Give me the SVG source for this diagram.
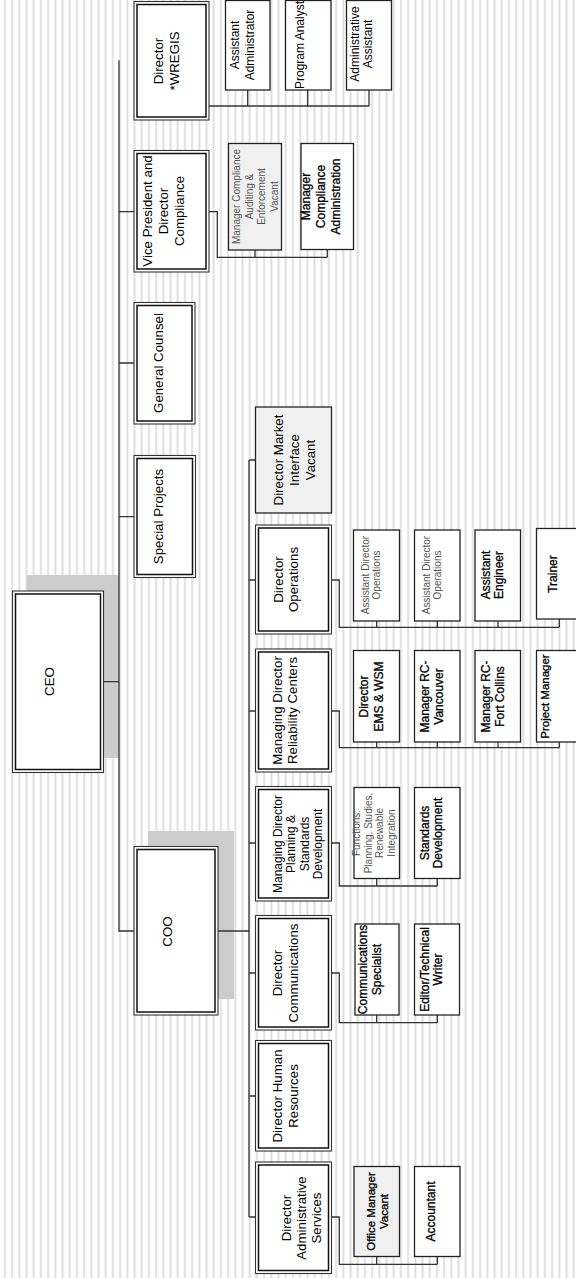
<svg xmlns="http://www.w3.org/2000/svg" width="576" height="1278" viewBox="0 0 576 1278">
<style>
.t{font-family:"Liberation Sans",Arial,sans-serif;fill:#000;text-anchor:middle}
.f13{font-size:13.3px}
.f12{font-size:12px}
.fb{font-size:12px;stroke:#000;stroke-width:0.3}
.lt{font-size:10px;fill:#555}
.o{fill:#fff;stroke:#333;stroke-width:1.1}
.i{fill:none;stroke:#111;stroke-width:1.5}
.b{fill:#fff;stroke:#222;stroke-width:1.3}
.g{fill:#f0f0f0;stroke:#222;stroke-width:1.3}
.sh{fill:#cccccc}
.c{fill:none;stroke:#333;stroke-width:1.3}
</style>
<defs>
<pattern id="stripes" width="7.2" height="20" patternUnits="userSpaceOnUse">
<rect x="4" y="0" width="1.6" height="20" fill="#dcdcdc"/>
<rect x="5.6" y="0" width="0.8" height="20" fill="#ececec"/>
</pattern>
</defs>
<rect width="576" height="1278" fill="#fff"/>
<rect width="576" height="1278" fill="url(#stripes)"/>
<rect class="sh" x="27" y="575" width="92" height="183"/>
<rect class="sh" x="148" y="831" width="86" height="168"/>
<g id="connectors">
<path class="c" d="M119,60.3 V931 H134 M218,931 H249 M103.5,681.7 H119 M119,211.7 H134 M119,363 H134 M119,516.7 H134"/>
<path class="c" d="M249,460 V1217 M249,460 H255.5 M249,580 H255.5 M249,711 H255.5 M249,843 H255.5 M249,973 H255.5 M249,1096 H255.5 M249,1217 H255.5"/>
<path class="c" d="M209,106 H369 M247.7,90 V106 M307.7,90 V106 M369,90 V106"/>
<path class="c" d="M209,211.7 H217.3 V257.3 H327.3 M255,250 V257.3 M327.3,250 V257.3"/>
<path class="c" d="M331.5,580 H339.3 V627.3 H559.3 M376.7,621 V627.3 M437.3,621 V627.3 M498,621 V627.3 M559.3,619 V627.3"/>
<path class="c" d="M331.5,711 H339.3 V747.7 H559.3 M376.7,742 V747.7 M437.3,742 V747.7 M498,742 V747.7 M559.3,742 V747.7"/>
<path class="c" d="M331.5,843 H339.3 V886 H437.3 M376.7,878.5 V886 M437.3,878.5 V886"/>
<path class="c" d="M331.5,973 H339.3 V1022.7 H437.3 M376.7,1015 V1022.7 M437.3,1015 V1022.7"/>
<path class="c" d="M331.5,1217 H339.3 V1264.3 H437.3 M376.7,1256.7 V1264.3 M437.3,1256.7 V1264.3"/>
</g>
<g id="ceo"><rect class="o" x="12.5" y="591" width="91" height="181.5"/><rect class="i" x="15.5" y="594" width="85" height="175.5"/>
<text class="t f13" transform="translate(54,681.5) rotate(-90)">CEO</text></g>
<g id="coo"><rect class="o" x="134" y="846.5" width="84" height="168.5"/><rect class="i" x="137" y="849.5" width="78" height="162.5"/>
<text class="t f13" transform="translate(172.3,931.5) rotate(-90)">COO</text></g>
<g id="wregis"><rect class="o" x="134" y="1.5" width="75" height="118.5"/><rect class="i" x="137" y="4.5" width="69" height="112.5"/>
<text class="t f13" transform="translate(162.7,61) rotate(-90)"><tspan x="0" y="0">Director</tspan><tspan x="0" y="16.5">*WREGIS</tspan></text></g>
<g id="vp"><rect class="o" x="134" y="150.5" width="75" height="121.5"/><rect class="i" x="137" y="153.5" width="69" height="115.5"/>
<text class="t f13" transform="translate(152,211) rotate(-90)"><tspan x="0" y="0">Vice President and</tspan><tspan x="0" y="16">Director</tspan><tspan x="0" y="32">Compliance</tspan></text></g>
<g id="gc"><rect class="o" x="134" y="302.5" width="61" height="121.5"/><rect class="i" x="137" y="305.5" width="55" height="115.5"/>
<text class="t f13" transform="translate(163,363) rotate(-90)">General Counsel</text></g>
<g id="sp"><rect class="o" x="134" y="455.5" width="61.5" height="122"/><rect class="i" x="137" y="458.5" width="55.5" height="116"/>
<text class="t f13" transform="translate(163,516.5) rotate(-90)">Special Projects</text></g>
<g id="mi"><rect class="g" x="255.5" y="407" width="76" height="106"/>
<text class="t f13" transform="translate(282.5,460) rotate(-90)"><tspan x="0" y="0">Director Market</tspan><tspan x="0" y="16">Interface</tspan><tspan x="0" y="32">Vacant</tspan></text></g>
<g id="ops"><rect class="o" x="255.5" y="525" width="76" height="109"/><rect class="i" x="258.5" y="528" width="70" height="103"/>
<text class="t f13" transform="translate(282.5,579.5) rotate(-90)"><tspan x="0" y="0">Director</tspan><tspan x="0" y="15">Operations</tspan></text></g>
<g id="rc"><rect class="o" x="255.5" y="649" width="76" height="123"/><rect class="i" x="258.5" y="652" width="70" height="117"/>
<text class="t f13" transform="translate(281.5,710.5) rotate(-90)"><tspan x="0" y="0">Managing Director</tspan><tspan x="0" y="15.5">Reliability Centers</tspan></text></g>
<g id="psd"><rect class="o" x="255.5" y="786.5" width="76" height="114.5"/><rect class="i" x="258.5" y="789.5" width="70" height="108.5"/>
<text class="t f12" transform="translate(282,844) rotate(-90)"><tspan x="0" y="0">Managing Director</tspan><tspan x="0" y="13.3">Planning &amp;</tspan><tspan x="0" y="26.6">Standards</tspan><tspan x="0" y="40">Development</tspan></text></g>
<g id="comm"><rect class="o" x="255.5" y="915.5" width="76" height="114.5"/><rect class="i" x="258.5" y="918.5" width="70" height="108.5"/>
<text class="t f13" transform="translate(282,973) rotate(-90)"><tspan x="0" y="0">Director</tspan><tspan x="0" y="16">Communications</tspan></text></g>
<g id="hr"><rect class="o" x="255.5" y="1040.5" width="76" height="110.5"/><rect class="i" x="258.5" y="1043.5" width="70" height="104.5"/>
<text class="t f13" transform="translate(282,1096) rotate(-90)"><tspan x="0" y="0">Director Human</tspan><tspan x="0" y="16">Resources</tspan></text></g>
<g id="admin"><rect class="o" x="255.5" y="1162" width="76" height="111.5"/><rect class="i" x="258.5" y="1165" width="70" height="105.5"/>
<text class="t f13" transform="translate(290.5,1218) rotate(-90)"><tspan x="0" y="0">Director</tspan><tspan x="0" y="15.3">Administrative</tspan><tspan x="0" y="30.6">Services</tspan></text></g>
<g id="aa"><rect class="b" x="225.5" y="0.5" width="44.5" height="89.5"/>
<text class="t f12" transform="translate(239,45) rotate(-90)"><tspan x="0" y="0">Assistant</tspan><tspan x="0" y="15">Administrator</tspan></text></g>
<g id="pa"><rect class="b" x="285.5" y="0.5" width="45.5" height="89.5"/>
<text class="t f12" transform="translate(303.5,45) rotate(-90)">Program Analyst</text></g>
<g id="adma"><rect class="b" x="346.5" y="0.5" width="45" height="89.5"/>
<text class="t f12" transform="translate(359,44) rotate(-90)"><tspan x="0" y="0">Administrative</tspan><tspan x="0" y="13">Assistant</tspan></text></g>
<g id="mcae"><rect class="g" x="228.5" y="143.5" width="53" height="106.5"/>
<text class="t lt" transform="translate(240,196.5) rotate(-90)"><tspan x="0" y="0">Manager Compliance</tspan><tspan x="0" y="12.5">Auditing &amp;</tspan><tspan x="0" y="25">Enforcement</tspan><tspan x="0" y="37.5">Vacant</tspan></text></g>
<g id="mca"><rect class="b" x="301" y="143.5" width="52.5" height="106"/>
<text class="t fb" transform="translate(310,196.5) rotate(-90)"><tspan x="0" y="0">Manager</tspan><tspan x="0" y="15">Compliance</tspan><tspan x="0" y="30">Administration</tspan></text></g>
<g id="ado1"><rect class="b" x="353.5" y="530" width="46" height="91"/>
<text class="t lt" transform="translate(368.5,575) rotate(-90)"><tspan x="0" y="0">Assistant Director</tspan><tspan x="0" y="11">Operations</tspan></text></g>
<g id="ado2"><rect class="b" x="414.5" y="530" width="45.5" height="91"/>
<text class="t lt" transform="translate(429.5,575) rotate(-90)"><tspan x="0" y="0">Assistant Director</tspan><tspan x="0" y="11">Operations</tspan></text></g>
<g id="ae"><rect class="b" x="475" y="530" width="45.5" height="91"/>
<text class="t fb" transform="translate(490,575) rotate(-90)"><tspan x="0" y="0">Assistant</tspan><tspan x="0" y="13">Engineer</tspan></text></g>
<g id="trainer"><rect class="b" x="536.5" y="528.5" width="41.5" height="90.5"/>
<text class="t fb" transform="translate(557,574) rotate(-90)">Trainer</text></g>
<g id="ems"><rect class="b" x="353.5" y="650.5" width="46" height="91.5"/>
<text class="t fb" transform="translate(368,696.5) rotate(-90)"><tspan x="0" y="0">Director</tspan><tspan x="0" y="14.5">EMS &amp; WSM</tspan></text></g>
<g id="rcv"><rect class="b" x="414.5" y="650.5" width="45.5" height="91.5"/>
<text class="t fb" transform="translate(429,696.5) rotate(-90)"><tspan x="0" y="0">Manager RC-</tspan><tspan x="0" y="13.5">Vancouver</tspan></text></g>
<g id="rcfc"><rect class="b" x="475" y="650.5" width="45.5" height="91.5"/>
<text class="t fb" transform="translate(490,696.5) rotate(-90)"><tspan x="0" y="0">Manager RC-</tspan><tspan x="0" y="13.5">Fort Collins</tspan></text></g>
<g id="pm"><rect class="b" x="536.5" y="650.5" width="41.5" height="91.5"/>
<text class="t fb" style="font-size:11.5px" transform="translate(549,696.5) rotate(-90)">Project Manager</text></g>
<g id="func"><rect class="b" x="354" y="787.5" width="45.5" height="91"/>
<text class="t lt" transform="translate(360,833) rotate(-90)"><tspan x="0" y="0">Functions:</tspan><tspan x="0" y="11.5">Planning, Studies,</tspan><tspan x="0" y="23">Renewable</tspan><tspan x="0" y="34.5">Integration</tspan></text></g>
<g id="sd"><rect class="b" x="414.5" y="787.5" width="45.5" height="91"/>
<text class="t fb" transform="translate(428.5,833) rotate(-90)"><tspan x="0" y="0">Standards</tspan><tspan x="0" y="13.5">Development</tspan></text></g>
<g id="cs"><rect class="b" x="355" y="924" width="44" height="91"/>
<text class="t fb" transform="translate(366.5,969.5) rotate(-90)"><tspan x="0" y="0">Communications</tspan><tspan x="0" y="14">Specialist</tspan></text></g>
<g id="etw"><rect class="b" x="414.5" y="924" width="45" height="91"/>
<text class="t fb" transform="translate(428.5,969.5) rotate(-90)"><tspan x="0" y="0">Editor/Technical</tspan><tspan x="0" y="13.5">Writer</tspan></text></g>
<g id="omv"><rect class="g" x="354" y="1166.5" width="45.5" height="90"/>
<text class="t fb" style="font-size:11.5px" transform="translate(374.5,1211.5) rotate(-90)"><tspan x="0" y="0">Office Manager</tspan><tspan x="0" y="13">Vacant</tspan></text></g>
<g id="acc"><rect class="b" x="414.5" y="1166.5" width="45.5" height="90"/>
<text class="t fb" transform="translate(435,1211.5) rotate(-90)">Accountant</text></g>
</svg>
